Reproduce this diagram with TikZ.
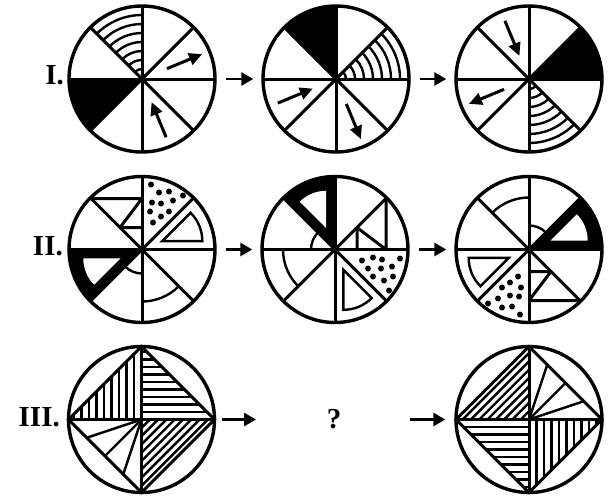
\documentclass[tikz,border=0pt]{standalone}
\usepackage{fontspec}
\setmainfont{Liberation Serif}
\usetikzlibrary{arrows.meta}
\newcommand\rowIcontent{%
  \fill (0,0) -- (180:73) arc[start angle=180,end angle=225,radius=73] -- cycle;
  \foreach \r in {10,19,...,64} \draw[hat] (90:\r) arc[start angle=90,end angle=135,radius=\r];
  \draw[pa] (22.5:27) -- (22.5:65);
  \draw[pa] (292.5:63) -- (292.5:25);
  \foreach \a in {0,45,90,135} \draw[rad] (\a:73) -- (\a+180:73);
}
\newcommand\rowIIcontent{%
  \fill (0,0) -- (180:73) arc[start angle=180,end angle=225,radius=73] -- cycle;
  \fill[white] (202.5:23.5) -- ++(180:37) arc[start angle=180,end angle=225,radius=37] -- cycle;
  \draw[hat,line join=miter] (22.5:22) -- ++(0:40) arc[start angle=0,end angle=45,radius=40] -- cycle;
  \draw[rad] (-51,51) -- (0,51) (-22,22) -- (0,51) (-22,22) -- (0,22);
  \draw[hat] (225:24) arc[start angle=225,end angle=270,radius=24];
  \draw[hat] (270:52) arc[start angle=270,end angle=315,radius=52];
  \foreach \p in {(11,27),(19,33),(8,38),(27,38),(19,46),(10,47),(31,49),(41,54),(27,58),(17,57),(9,65)}
    \fill \p circle[radius=3];
  \foreach \a in {0,45,90,135} \draw[rad] (\a:73) -- (\a+180:73);
}
\newcommand\rowIIIcontent{%
  \foreach \k in {1,...,9} \draw[hat] (-7.5*\k,0) -- (-7.5*\k,73-7.5*\k);
  \foreach \k in {1,...,9} \draw[hat] (0,7.5*\k) -- (73-7.5*\k,7.5*\k);
  \foreach \k in {1,...,8} \draw[hat] (8.3*\k,0) -- (0,-8.3*\k);
  \foreach \s in {18.25,36.5,54.75} \draw[hat] (0,0) -- (-73+\s,-\s);
  \draw[rad,line join=miter] (0,73) -- (73,0) -- (0,-73) -- (-73,0) -- cycle;
  \draw[rad] (-73,0) -- (73,0) (0,73) -- (0,-73);
}
\begin{document}
\begin{tikzpicture}[x=1pt,y=1pt,
  disc/.style={circle,draw,line width=3.4pt,minimum size=146pt,inner sep=0pt},
  rad/.style={line width=3pt},
  hat/.style={line width=2.4pt},
  pa/.style={line width=3pt,-{Triangle[length=13pt,width=12pt]}},
  flow/.style={line width=2.8pt,-{Triangle[length=12pt,width=13pt]}},
  lbl/.style={font=\bfseries\fontsize{29}{29}\selectfont,inner sep=0pt,anchor=base east},
  qm/.style={font=\bfseries\fontsize{29}{29}\selectfont,inner sep=0pt,anchor=base}]
\useasboundingbox (0,-499) rectangle (608,0);
% row I
\node[disc] (c11) at (142,-79) {};
\node[disc] (c12) at (336,-79) {};
\node[disc] (c13) at (529,-79) {};
\begin{scope}[shift={(c11.center)}] \rowIcontent \end{scope}
\begin{scope}[shift={(c12.center)},rotate=-90] \rowIcontent \end{scope}
\begin{scope}[shift={(c13.center)},rotate=-180] \rowIcontent \end{scope}
% row II
\node[disc] (c21) at (142,-249.5) {};
\node[disc] (c22) at (335,-249.5) {};
\node[disc] (c23) at (529,-249.5) {};
\begin{scope}[shift={(c21.center)}] \rowIIcontent \end{scope}
\begin{scope}[shift={(c22.center)},rotate=-90] \rowIIcontent \end{scope}
\begin{scope}[shift={(c23.center)},rotate=-180] \rowIIcontent \end{scope}
% row III
\node[disc] (c31) at (141.5,-419.5) {};
\node[disc] (c33) at (529,-419.5) {};
\begin{scope}[shift={(c31.center)}] \rowIIIcontent \end{scope}
\begin{scope}[shift={(c33.center)},rotate=180] \rowIIIcontent \end{scope}
% labels
\node[lbl] (l1) at (64,-84) {I.};
\node[lbl] (l2) at (63,-255) {II.};
\node[lbl] (l3) at (60,-426) {III.};
\node[qm] (q) at (334,-428) {?};
% arrows
\draw[flow,shorten <=9pt,shorten >=8pt] (c11) -- (c12);
\draw[flow,shorten <=9pt,shorten >=8pt] (c12) -- (c13);
\draw[flow,shorten <=9pt,shorten >=8pt] (c21) -- (c22);
\draw[flow,shorten <=9pt,shorten >=8pt] (c22) -- (c23);
\draw[flow,shorten <=6pt,shorten >=78pt] (c31) -- (c31 -| q);
\draw[flow,shorten <=76pt,shorten >=9pt] (c31 -| q) -- (c33);
\end{tikzpicture}
\end{document}
